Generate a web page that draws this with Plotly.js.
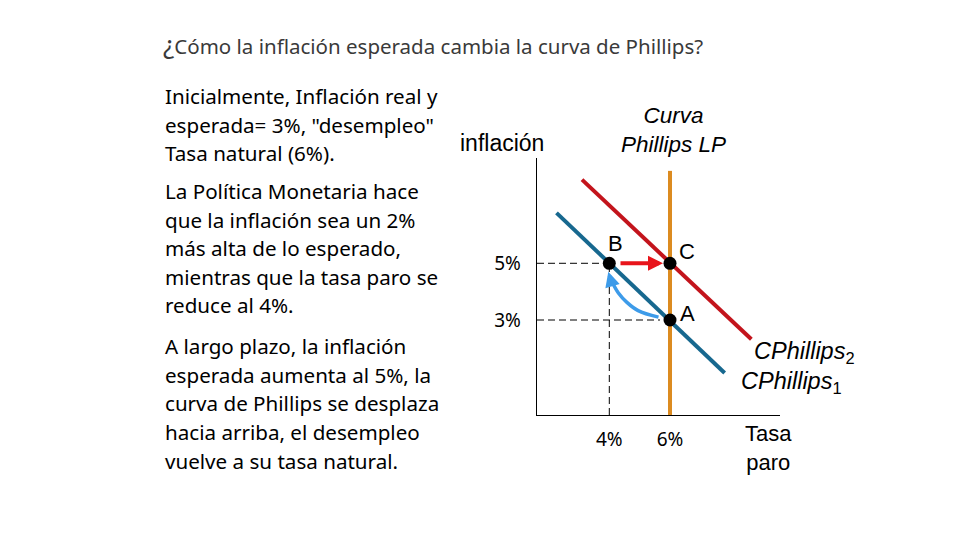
<!DOCTYPE html>
<html>
<head>
<meta charset="utf-8">
<script src="https://cdn.plot.ly/plotly-3.0.1.min.js"></script>
<style>html,body{margin:0;padding:0;background:#fff;}#chart{width:960px;height:540px;}</style>
</head>
<body>
<div id="chart"></div>
<script>
// ---- data (unemployment %, inflation %) ----
const pc1X = [2.26, 7.80];
const pc1Y = [6.78, 1.13];
const pc2X = [3.10, 8.68];
const pc2Y = [7.95, 2.32];
const lpX = [6, 6];
const lpY = [-0.35, 8.26];
const pointNames = ['A', 'B', 'C'];
const pointX = [6, 4, 6];
const pointY = [3, 5, 5];
const curveArrowX = [5.62, 4.95, 4.58, 4.30, 4.10];
const curveArrowY = [3.10, 3.33, 3.62, 3.95, 4.32];
const yTickVals = [5, 3];
const yTickText = ['5%', '3%'];
const xTickVals = [4, 6];
const xTickText = ['4%', '6%'];
const xRange = [1.618, 9.624];
const yRange = [-0.351, 8.714];

const titleText = '<span style="font-size:26px">¿</span>Cómo la inflación esperada cambia la curva de Phillips?';
const bodyLines = [
  ['Inicialmente, Inflación real y', 96],
  ['esperada= 3%, "desempleo"', 125],
  ['Tasa natural (6%).', 153],
  ['La Política Monetaria hace', 191],
  ['que la inflación sea un 2%', 220],
  ['más alta de lo esperado,', 248],
  ['mientras que la tasa paro se', 277],
  ['reduce al 4%.', 305],
  ['A largo plazo, la inflación', 346],
  ['esperada aumenta al 5%, la', 375],
  ['curva de Phillips se desplaza', 403],
  ['hacia arriba, el desempleo', 432],
  ['vuelve a su tasa natural.', 461]
];

// ---- layout helpers (pixel -> paper) ----
const M = {l: 537, r: 180, t: 158, b: 125};
const PW = 960 - M.l - M.r, PH = 540 - M.t - M.b;
const px = x => (x - M.l) / PW;
const py = y => (540 - M.b - y) / PH;

const traces = [];
// dashed guides
traces.push({x: [xRange[0], pointX[1]], y: [pointY[1], pointY[1]], mode: 'lines',
  line: {color: '#000', width: 1, dash: '7px,4px'}, hoverinfo: 'skip'});
traces.push({x: [xRange[0], 5.67], y: [pointY[0], pointY[0]], mode: 'lines',
  line: {color: '#000', width: 1, dash: '7px,4px'}, hoverinfo: 'skip'});
traces.push({x: [pointX[1], pointX[1]], y: [yRange[0], pointY[1]], mode: 'lines',
  line: {color: '#000', width: 1, dash: '7px,4px'}, hoverinfo: 'skip'});
// long-run Phillips curve
traces.push({x: lpX, y: lpY, mode: 'lines', line: {color: '#dc8b20', width: 4}});
// short-run Phillips curves
traces.push({x: pc1X, y: pc1Y, mode: 'lines', line: {color: '#17688f', width: 4}});
traces.push({x: pc2X, y: pc2Y, mode: 'lines', line: {color: '#c3141c', width: 4}});
// curved blue arrow body
traces.push({x: curveArrowX, y: curveArrowY, mode: 'lines',
  line: {color: '#3d9be9', width: 3.5, shape: 'spline'}});
// points
traces.push({x: pointX, y: pointY, mode: 'markers', text: pointNames,
  marker: {color: '#000', size: 13}});

const ann = [];
// title
ann.push({text: titleText, xref: 'paper', yref: 'paper', x: px(161), y: py(44),
  xanchor: 'left', yanchor: 'middle', showarrow: false,
  font: {family: 'Noto Sans', size: 20.5, color: '#3a3a3a'}});
// body text
bodyLines.forEach(([t, yy]) => {
  ann.push({text: t, xref: 'paper', yref: 'paper', x: px(163), y: py(yy),
    xanchor: 'left', yanchor: 'middle', showarrow: false,
    font: {family: 'Noto Sans', size: 20.6, color: '#000'}});
});
const arial = 'Liberation Sans, Arial, sans-serif';
ann.push({text: 'inflación', xref: 'paper', yref: 'paper', x: px(502), y: py(143),
  xanchor: 'center', yanchor: 'middle', showarrow: false, font: {family: arial, size: 23, color: '#000'}});
ann.push({text: '<i>Curva</i><br><i>Phillips LP</i>', xref: 'paper', yref: 'paper', x: px(673), y: py(130),
  xanchor: 'center', yanchor: 'middle', showarrow: false, font: {family: arial, size: 22.5, color: '#000'}});
ann.push({text: '<i>CPhillips</i><sub>2</sub>', xref: 'paper', yref: 'paper', x: px(752), y: py(352),
  xanchor: 'left', yanchor: 'middle', showarrow: false, font: {family: arial, size: 23.5, color: '#000'}});
ann.push({text: '<i>CPhillips</i><sub>1</sub>', xref: 'paper', yref: 'paper', x: px(739), y: py(382),
  xanchor: 'left', yanchor: 'middle', showarrow: false, font: {family: arial, size: 23.5, color: '#000'}});
ann.push({text: 'Tasa<br>paro', xref: 'paper', yref: 'paper', x: px(768), y: py(448),
  xanchor: 'center', yanchor: 'middle', showarrow: false, font: {family: arial, size: 22, color: '#000'}});
// point letters
const letterOffsets = {A: [17, -7], B: [6, -20], C: [17, -12]};
pointNames.forEach((n, i) => {
  ann.push({text: n, x: pointX[i], y: pointY[i], xref: 'x', yref: 'y', showarrow: false,
    xshift: letterOffsets[n][0], yshift: -letterOffsets[n][1], xanchor: 'center', yanchor: 'middle',
    font: {family: arial, size: 22, color: '#000'}});
});
// red arrow B -> C
ann.push({x: pointX[2] - 0.23, y: pointY[2], ax: pointX[1] + 0.32, ay: pointY[1],
  xref: 'x', yref: 'y', axref: 'x', ayref: 'y', showarrow: true, text: '',
  arrowhead: 2, arrowsize: 0.75, arrowwidth: 4, arrowcolor: '#e8141b', standoff: 0, startstandoff: 0});
// blue arrow head A -> B
ann.push({x: 3.967, y: 4.70, ax: curveArrowX[4], ay: curveArrowY[4] - 0.1,
  xref: 'x', yref: 'y', axref: 'x', ayref: 'y', showarrow: true, text: '',
  arrowhead: 2, arrowsize: 0.85, arrowwidth: 3.5, arrowcolor: '#3d9be9', standoff: 0});

const layout = {
  width: 960, height: 540, margin: M,
  paper_bgcolor: '#fff', plot_bgcolor: '#fff', showlegend: false,
  xaxis: {range: xRange, showgrid: false, zeroline: false, showline: true, linecolor: '#000', linewidth: 1.3,
    tickvals: xTickVals, ticktext: xTickText, ticks: '', ticklabelstandoff: 7,
    tickfont: {family: 'Noto Sans', size: 19, color: '#000'}},
  yaxis: {range: yRange, showgrid: false, zeroline: false, showline: true, linecolor: '#000', linewidth: 1.3,
    tickvals: yTickVals, ticktext: yTickText, ticks: '', ticklabelstandoff: 11,
    tickfont: {family: 'Noto Sans', size: 19, color: '#000'}},
  annotations: ann
};
Plotly.newPlot('chart', traces, layout, {staticPlot: true});
</script>
</body>
</html>
